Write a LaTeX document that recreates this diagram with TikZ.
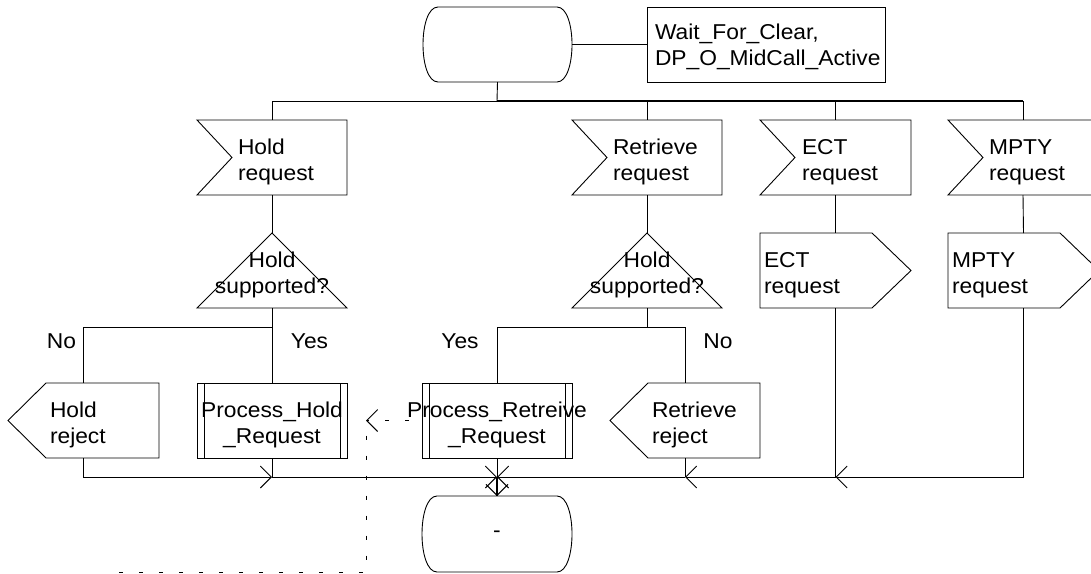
\documentclass[tikz,border=0pt]{standalone}
\usepackage{fontspec}
\setmainfont{Liberation Sans}[FakeStretch=1.06]
\usetikzlibrary{arrows.meta,calc}
\newcommand{\MyIn}[1]{\draw[ln] (#1.north west) -- (#1.north east) -- (#1.south east) -- (#1.south west) -- ([xshift=35pt]#1.west) -- cycle;}
\newcommand{\MyOut}[1]{\draw[ln] (#1.north west) -- ([xshift=-39pt]#1.north east) -- (#1.east) -- ([xshift=-39pt]#1.south east) -- (#1.south west) -- cycle;}
\newcommand{\MyRej}[1]{\draw[ln] (#1.west) -- ([xshift=38pt]#1.north west) -- (#1.north east) -- (#1.south east) -- ([xshift=38pt]#1.south west) -- cycle;}
\newcommand{\MyProc}[1]{\draw[ln] (#1.north west) rectangle (#1.south east); \draw[ln] ([xshift=7pt]#1.north west) -- ([xshift=7pt]#1.south west); \draw[ln] ([xshift=-7pt]#1.north east) -- ([xshift=-7pt]#1.south east);}
\newcommand{\MyTri}[1]{\draw[ln] (#1.south west) -- (#1.north) -- (#1.south east) -- cycle;}
\newcommand{\MyState}[1]{\draw[ln] ([xshift=15pt]#1.north west) -- ([xshift=-15pt]#1.north east) .. controls ([xshift=5pt]#1.north east) and ([xshift=5pt]#1.south east) .. ([xshift=-15pt]#1.south east) -- ([xshift=15pt]#1.south west) .. controls ([xshift=-5pt]#1.south west) and ([xshift=-5pt]#1.north west) .. cycle;}
\begin{document}
\begin{tikzpicture}[x=1pt,y=-1pt,
  every node/.style={font=\fontsize{21.5}{26}\selectfont, inner sep=0pt, outer sep=0pt},
  frame/.style={draw=none, minimum width=150pt, minimum height=75pt},
  lbl/.style={align=left, anchor=base west},
  ctr/.style={align=center, anchor=base},
  ln/.style={line width=0.9pt, draw=black},
  flow/.style={ln, -{Straight Barb[length=11pt,width=22pt]}},
  dpat/.style={ln, dash pattern=on 4pt off 16pt}]
\useasboundingbox (0,0) rectangle (1091,573);

% top state and text (base anchor = last line's baseline)
\node[frame, minimum width=149pt] (s1) at (497.5,44.5) {};
\MyState{s1}
\node[frame, minimum width=238pt, ln] (tb) at (766,44.5) {};
\node[lbl] (ttb) at (655,65) {Wait\_For\_Clear,\\DP\_O\_MidCall\_Active};
\draw[ln] (s1.east) -- (tb.west);

% input signals
\node[frame] (hr) at (272,157.5) {};
\node[frame] (rr) at (647,157.5) {};
\node[frame, minimum width=151pt] (er) at (835.5,157.5) {};
\node[frame] (mr) at (1023,157.5) {};
\MyIn{hr} \MyIn{rr} \MyIn{er} \MyIn{mr}
\node[lbl] (thr) at (238,180) {Hold\\request};
\node[lbl] (trr) at (613,180) {Retrieve\\request};
\node[lbl] (ter) at (802,180) {ECT\\request};
\node[lbl] (tmr) at (989,180) {MPTY\\request};

\coordinate (bt) at (497,101);
\coordinate (bm) at (1023,101);
\draw[ln] (s1.south) -- (bt);
\draw[ln] (bt) -| (hr.north);
\draw[ln] (bt) -| (rr.north);
\draw[ln] (bt) -| (er.north);
\draw[ln] (bt) -| (mr.north);
\draw[line width=1.6pt] (bt) -- (bm);

% decisions
\node[frame] (ht) at (272,270.5) {};
\node[frame] (rt) at (647,270.5) {};
\MyTri{ht} \MyTri{rt}
\node[ctr] (tht) at (272,293) {Hold\\supported?};
\node[ctr] (trt) at (647,293) {Hold\\supported?};
\draw[ln] (hr.south) -- (ht.north);
\draw[ln] (rr.south) -- (rt.north);

% outputs
\node[frame, minimum width=151pt] (eo) at (835.5,270.5) {};
\node[frame, minimum width=151pt] (mo) at (1023.5,270.5) {};
\MyOut{eo} \MyOut{mo}
\node[lbl] (teo) at (764,293) {ECT\\request};
\node[lbl] (tmo) at (952,293) {MPTY\\request};
\draw[ln] (er.south) -- (eo.north);
\draw[ln] (mr.south) -- (mo.north);

% bottom row
\node[frame, minimum width=151pt] (hrej) at (83.5,420.5) {};
\node[frame] (ph) at (272,420.5) {};
\node[frame] (pr) at (497,420.5) {};
\node[frame] (rrej) at (685,420.5) {};
\MyRej{hrej} \MyProc{ph} \MyProc{pr} \MyRej{rrej}
\node[lbl] (threj) at (50,443) {Hold\\reject};
\node[lbl] (trrej) at (652,443) {Retrieve\\reject};
\node[ctr] (tph) at (272,443) {Process\_Hold\\\_Request};
\node[ctr] (tpr) at (497,443) {Process\_Retreive\\\_Request};

% branches
\coordinate (hb) at (272,327);
\coordinate (rb) at (647,327);
\draw[ln] (ht.south) -- (ph.north);
\draw[ln] (hb) -| (hrej.north);
\draw[ln] (rt.south) -- (rb);
\draw[ln] (rb) -| (pr.north);
\draw[ln] (rb) -| (rrej.north);
\node[ctr] (lno1) at (61.5,348) {No};
\node[ctr] (lye1) at (309.5,348) {Yes};
\node[ctr] (lye2) at (460,348) {Yes};
\node[ctr] (lno2) at (718,348) {No};

% bottom state
\node[frame, minimum height=76pt] (s2) at (497,534) {-};
\MyState{s2}

% merge bus
\coordinate (jh) at (272,477);
\coordinate (jm) at (497,477);
\coordinate (jr) at (685,477);
\coordinate (je) at (835.5,477);
\draw[flow] (hrej.south) |- (jh);
\draw[ln] (ph.south) -- (jh);
\draw[flow] (jh) -- (jm);
\draw[ln] (pr.south) -- (jm);
\draw[ln] (rrej.south) -- (jr);
\draw[flow] (jr) -- (jm);
\draw[ln] (eo.south) -- (je);
\draw[flow] (je) -- (jr);
\draw[flow] (mo.south) |- (je);
\draw[line width=1.8pt] (jm) -- (s2.north);
\draw[flow] (jm) -- (s2.north);

% dashed comment connector
\coordinate (dt) at (366,420.5);
\coordinate (dc) at (366,572);
\coordinate (de) at (112,572);
\draw[flow, dash pattern=on 4pt off 16pt, dash phase=7pt] (pr.west) -- (dt);
\draw[dpat, dash phase=5pt] (dt) -- (dc) -- (de);
\end{tikzpicture}
\end{document}
